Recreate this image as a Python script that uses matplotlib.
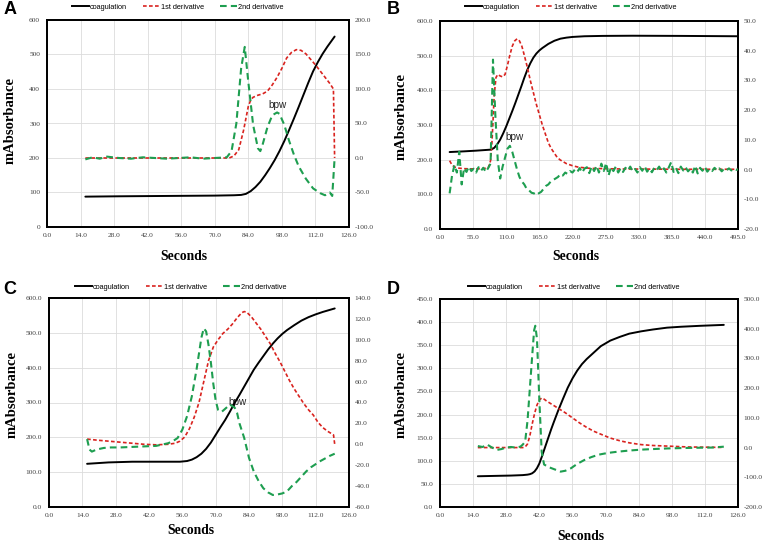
import numpy as np
import matplotlib
matplotlib.use("Agg")
import matplotlib.pyplot as plt
from matplotlib.lines import Line2D
from matplotlib.ticker import FormatStrFormatter, MultipleLocator

# ---------------- Panel A ----------------
A_coag_t = [16, 30, 50, 70, 78, 81, 83, 85, 87, 89, 91, 93, 95, 97, 99, 101, 103, 105,
            107, 109, 111, 113, 115, 117, 120]
A_coag = [88, 89, 90, 91, 92, 93, 96, 104, 116, 131, 150, 171, 194, 220, 249, 281, 314,
          348, 383, 418, 451, 478, 502, 523, 552]
A_d1_t = [16, 30, 50, 70, 76, 78, 80, 82, 84, 85, 86, 88, 90, 92, 94, 96, 98, 100, 102,
          104, 106, 108, 110, 112, 114, 116, 118, 119.5, 120]
A_d1 = [0, 0, 0, 0, 0, 3, 12, 40, 75, 84, 88, 91, 93, 97, 106, 117, 130, 145, 153, 157,
        156, 151, 143, 135, 126, 117, 108, 100, 0]
A_d2_t = [16, 19, 22, 25, 30, 35, 40, 45, 50, 55, 60, 65, 70, 75, 77, 79, 81, 82.5, 84,
          86, 88, 89, 90, 92, 94, 96, 97, 99, 101, 103, 105, 108, 111, 114, 116, 118, 119, 120]
A_d2 = [-2, 1, -1, 2, 0, -1, 1, 0, -1, 0, 1, -1, 0, 1, 10, 50, 130, 161, 110, 48, 14, 10,
        20, 45, 62, 66, 64, 48, 25, 5, -12, -30, -44, -51, -54, -50, -55, 0]

# ---------------- Panel B ----------------
B_coag_t = [16, 40, 60, 85, 90, 95, 100, 105, 110, 115, 120, 125, 130, 135, 140, 145, 150,
            155, 160, 165, 170, 180, 190, 200, 210, 220, 240, 270, 320, 400, 494]
B_coag = [222, 224, 226, 229, 234, 244, 258, 276, 296, 318, 340, 363, 387, 411, 436, 459,
          478, 494, 506, 515, 522, 534, 543, 549, 552, 554, 556, 557, 557.5, 557, 556]
B_d1_t = [16, 20, 25, 30, 40, 60, 80, 84, 86, 88, 90, 93, 96, 100, 104, 108, 112, 116, 120,
          124, 128, 132, 136, 140, 145, 150, 155, 160, 165, 170, 175, 180, 185, 190, 195,
          200, 210, 220, 230, 250, 300, 400, 494]
B_d1 = [3, 1.5, 0.8, 0.5, 0.3, 0.2, 0.5, 3, 8, 16, 25, 31, 32, 31.5, 31.2, 32, 35, 38.5,
        41.5, 43.3, 44, 43.3, 41.5, 38.5, 34.5, 30, 26, 22, 18.5, 15, 12, 9, 7, 5.5, 4,
        3.2, 2, 1.3, 0.8, 0.4, 0.2, 0.1, 0.1]
B_d2_t = list(range(16, 497, 4))
B_d2 = [-8, -2, 1.5, -1, 6, -5, 0.5, -0.8, 1, -0.5, 0.3, -1, 0.8, -0.4, 0.6, -0.8, 0.5, 2,
        37, 18, 3, -3, 1, 4, 7, 8, 6, 3, 0, -2.5, -4, -5, -6.5, -7, -7.8, -8, -8.6, -8,
        -7.5, -6.5, -5.5, -5, -4, -3.5, -3, -2.5, -1.5, -2, -1, -1.5, -0.5, -1, 0, -0.8,
        0.5, -1, 0.3, 0.8, -1.2, 1, -0.5, 1.3, -1, 2, -0.5, 2.2, -2, 0.8, -0.5, 1, -1, 0.4,
        -0.8, 0.6, -0.3, 1, -0.6, 0.2, -1, 0.8, -0.4, 1.1, -0.7, 0.3, -0.9, 0.6, -0.2, 1,
        -0.5, 0.4, -1, 0.7, 2.5, -0.8, 0.5, -1.2, 1, -0.3, 0.8, -0.6, 0.3, -1, 1.3, -1.3,
        0.6, -0.4, 0.9, -0.7, 0.2, -0.5, 0.6, -0.3, 0.4, -0.6, 0.3, -0.2, 0.4, -0.3, 0.2,
        -0.1, 0.1]
B_d2_t = B_d2_t[:len(B_d2)]

# ---------------- Panel C ----------------
C_coag_t = [16, 25, 35, 45, 55, 58, 60, 62, 64, 66, 68, 70, 72, 74, 76, 78, 80, 82, 84, 86,
            88, 90, 92, 94, 96, 98, 100, 103, 106, 109, 112, 115, 118, 120]
C_coag = [124, 128, 130, 130, 130, 132, 136, 143, 153, 167, 185, 207, 229, 250, 274, 299,
          322, 346, 370, 394, 414, 433, 452, 469, 484, 497, 508, 522, 535, 545, 553, 560,
          566, 570]
C_d1_t = [16, 20, 25, 30, 35, 40, 45, 50, 53, 55, 57, 59, 61, 63, 65, 67, 69, 71, 73, 75,
          77, 79, 81, 82, 83, 85, 87, 89, 91, 93, 95, 97, 99, 101, 103, 105, 107, 109, 111,
          113, 115, 117, 119.5, 120]
C_d1 = [5, 4, 3, 2, 1, 0, -0.5, 0, 1, 3, 7, 15, 26, 40, 60, 80, 93, 100, 106, 110, 115,
        121, 126, 127, 126.5, 122, 116, 110, 103, 96, 87, 79, 70, 61, 53, 46, 39, 33, 28,
        21, 16, 12.5, 9, 0]
C_d2_t = [16, 17, 18, 20, 23, 26, 30, 35, 40, 45, 48, 50, 52, 54, 56, 58, 60, 62, 64, 65,
          66, 67, 68, 69, 70, 71, 72.5, 74, 76, 78, 79, 80, 82, 84, 86, 88, 90, 92, 94, 96,
          98, 100, 102, 104, 106, 108, 110, 112, 114, 116, 118, 120]
C_d2 = [5, -5, -7, -5, -3.5, -3, -3, -2.5, -2, -1.5, 0, 1, 3, 6, 14, 27, 46, 72, 102, 111,
        108, 95, 78, 58, 42, 33, 31, 34, 38, 35, 30, 20, 6, -13, -26, -35, -42, -46, -48.5,
        -48, -47, -45, -40, -36, -31, -26, -22, -19, -16, -13.5, -11, -9]

# ---------------- Panel D ----------------
D_coag_t = [16, 25, 30, 35, 37, 38, 39, 40, 41, 42, 43, 44, 45, 46, 47, 48, 50, 52, 54, 56,
            58, 60, 62, 65, 68, 72, 76, 80, 85, 90, 96, 102, 110, 120]
D_coag = [66.5, 67.5, 68, 69, 70, 71, 73, 77, 84, 94, 108, 123, 138, 153, 168, 182, 209,
          234, 258, 278, 295, 309, 320, 334, 348, 360, 368, 375, 380, 384, 388, 390, 392, 394]
D_d1_t = [16, 25, 30, 35, 36, 37, 38, 39, 40, 41, 42, 43, 44, 45, 47, 50, 53, 56, 59, 62,
          65, 68, 72, 76, 80, 85, 90, 96, 105, 120]
D_d1 = [0, 0, 0, 0, 2, 12, 40, 80, 115, 143, 160, 167, 163, 157, 147, 132, 117, 100, 83,
        68, 55, 45, 32, 23, 16, 10, 7, 5, 2, 0.5]
D_d2_t = [16, 18, 20, 22, 24, 26, 28, 30, 32, 34, 35, 36, 37, 38, 39, 39.8, 40.3, 41, 42,
          43, 44, 46, 48, 51, 53, 55.3, 58, 61, 64, 67, 71, 75, 80, 85, 90, 96, 103, 110,
          115, 120]
D_d2 = [5, 2, 10, 0, -8, -5, 0, 2, 0, 3, 10, 20, 90, 200, 311, 395, 410, 366, 160, -15,
        -57, -66, -72, -81, -78, -70, -55, -42, -32, -24, -18, -14, -10, -7, -5, -3, -1.5,
        -0.5, 0, 3]

# ---------------- Axis settings ----------------
panels = [
    dict(label="A", rect=(47, 20, 349, 227), xlim=(0, 126), xstep=14,
         ylim=(0, 600), ystep=100, yfmt="%d", y2lim=(-100, 200), y2step=50,
         coag=(A_coag_t, A_coag), d1=(A_d1_t, A_d1), d2=(A_d2_t, A_d2),
         bpw=(96, 354), leg=(178, 7), lab=(4, 18), ylab=(10, 120), xlab=(184, 256)),
    dict(label="B", rect=(440, 21, 738, 229), xlim=(0, 495), xstep=55,
         ylim=(0, 600), ystep=100, yfmt="%.1f", y2lim=(-20, 50), y2step=10,
         coag=(B_coag_t, B_coag), d1=(B_d1_t, B_d1), d2=(B_d2_t, B_d2),
         bpw=(123, 265), leg=(571, 7), lab=(387, 18), ylab=(401, 117), xlab=(576, 256)),
    dict(label="C", rect=(49, 298, 349, 507), xlim=(0, 126), xstep=14,
         ylim=(0, 600), ystep=100, yfmt="%.1f", y2lim=(-60, 140), y2step=20,
         coag=(C_coag_t, C_coag), d1=(C_d1_t, C_d1), d2=(C_d2_t, C_d2),
         bpw=(79, 301), leg=(181, 287), lab=(3, 298), ylab=(12, 395), xlab=(191, 530)),
    dict(label="D", rect=(440, 299, 738, 507), xlim=(0, 126), xstep=14,
         ylim=(0, 450), ystep=50, yfmt="%.1f", y2lim=(-200, 500), y2step=100,
         coag=(D_coag_t, D_coag), d1=(D_d1_t, D_d1), d2=(D_d2_t, D_d2),
         bpw=None, leg=(574, 287), lab=(387, 298), ylab=(401, 395), xlab=(581, 537)),
]

W, H = 768, 543
fig = plt.figure(figsize=(W / 100, H / 100), dpi=100)

RED = "#d62728"
RED = "#d9231f"
GREEN = "#1e9e50"
TICKC = "#404040"
tickfont = dict(family="Liberation Serif", size=5.3)

for p in panels:
    l, t, r, b = p["rect"]
    ax = fig.add_axes([l / W, 1 - b / H, (r - l) / W, (b - t) / H])
    ax2 = ax.twinx()
    ax.set_xlim(*p["xlim"])
    ax.set_ylim(*p["ylim"])
    ax2.set_ylim(*p["y2lim"])
    ax.xaxis.set_major_locator(MultipleLocator(p["xstep"]))
    ax.yaxis.set_major_locator(MultipleLocator(p["ystep"]))
    ax2.yaxis.set_major_locator(MultipleLocator(p["y2step"]))
    ax.xaxis.set_major_formatter(FormatStrFormatter("%.1f"))
    ax.yaxis.set_major_formatter(FormatStrFormatter(p["yfmt"]))
    ax2.yaxis.set_major_formatter(FormatStrFormatter("%.1f"))
    ax.grid(True, color="#dcdcdc", linewidth=0.6)
    ax.set_axisbelow(True)
    for a in (ax, ax2):
        a.tick_params(length=0, labelcolor=TICKC)
        for s in a.spines.values():
            s.set_color("black")
            s.set_linewidth(1.3)
        for lbl in a.get_xticklabels() + a.get_yticklabels():
            lbl.set_fontfamily(tickfont["family"])
            lbl.set_fontsize(tickfont["size"])
    ax.tick_params(axis="y", pad=5)
    ax.tick_params(axis="x", pad=4)
    ax2.tick_params(axis="y", pad=4)

    ax.plot(*p["coag"], color="black", linewidth=1.4, solid_capstyle="round", zorder=3)
    ax2.plot(*p["d1"], color=RED, linewidth=1.2, dashes=(2.2, 1.4), zorder=3)
    ax2.plot(*p["d2"], color=GREEN, linewidth=1.5, dashes=(3.2, 2.0), zorder=4)

    if p["bpw"] is not None:
        ax.text(p["bpw"][0], p["bpw"][1], "bpw", fontsize=7.2, family="Liberation Sans",
                ha="center", va="center", color="#222222", zorder=2)

    handles = [Line2D([], [], color="black", linewidth=1.4),
               Line2D([], [], color=RED, linewidth=1.2, dashes=(2.2, 1.4)),
               Line2D([], [], color=GREEN, linewidth=1.5, dashes=(3.2, 2.0))]
    fig.legend(handles, ["coagulation", "1st derivative", "2nd derivative"],
               loc="center", bbox_to_anchor=(p["leg"][0] / W, 1 - p["leg"][1] / H),
               ncol=3, frameon=False, prop=dict(family="Liberation Sans", size=5.3),
               handlelength=2.3, handletextpad=0.1, columnspacing=2.2, borderpad=0)

    fig.text(p["lab"][0] / W, 1 - p["lab"][1] / H, p["label"], fontsize=13,
             fontweight="bold", family="Liberation Sans", ha="left", va="bottom")
    fig.text(p["ylab"][0] / W, 1 - p["ylab"][1] / H, "mAbsorbance", rotation=90,
             fontsize=10.5, fontweight="bold", family="Liberation Serif",
             ha="center", va="center")
    fig.text(p["xlab"][0] / W, 1 - p["xlab"][1] / H, "Seconds", fontsize=9.8,
             fontweight="bold", family="Liberation Serif", ha="center", va="center")

fig.savefig("out.png", dpi=100)
